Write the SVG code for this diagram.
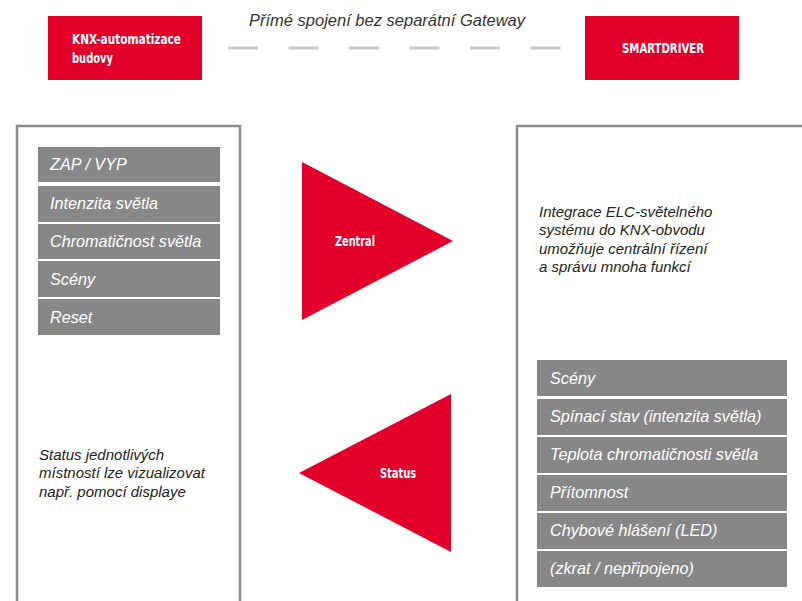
<svg xmlns="http://www.w3.org/2000/svg" width="802" height="601" viewBox="0 0 802 601">
<style>
.red{fill:#e2002b}
.item{fill:#878787}
.it{font-family:"Liberation Sans",Arial,sans-serif;font-style:italic;font-size:16.2px;fill:#ffffff}
.para{font-family:"Liberation Sans",Arial,sans-serif;font-style:italic;font-size:15px;fill:#222222}
.cond{font-family:"DejaVu Sans Condensed","DejaVu Sans",sans-serif;font-stretch:condensed;font-weight:bold;font-size:14px;fill:#ffffff}
.frame{fill:none;stroke:#8c8c8c;stroke-width:2.5}
</style>
<rect width="802" height="601" fill="#ffffff"/>
<g id="knx"><rect class="red" x="48" y="16" width="154" height="64"/>
<text class="cond" x="72" y="44" textLength="109" lengthAdjust="spacingAndGlyphs">KNX-automatizace</text>
<text class="cond" x="72" y="63" textLength="41" lengthAdjust="spacingAndGlyphs">budovy</text></g>
<g id="smartdriver"><rect class="red" x="585" y="16" width="154" height="64"/>
<text class="cond" x="622" y="53" textLength="82" lengthAdjust="spacingAndGlyphs">SMARTDRIVER</text></g>
<g id="connectors">
<line x1="228" y1="48" x2="562" y2="48" stroke="#c8c8c8" stroke-width="3" stroke-dasharray="30 30.5"/>
<text class="para" x="387" y="26" text-anchor="middle" style="font-size:16.5px;fill:#333">Přímé spojení bez separátní Gateway</text>
</g>
<g id="left-panel">
<path class="frame" d="M17 603 V126 H240 V603"/>
<rect class="item" x="38" y="147" width="182" height="35"/>
<text class="it" x="50" y="170">ZAP / VYP</text>
<rect class="item" x="38" y="186" width="182" height="36"/>
<text class="it" x="50" y="209">Intenzita světla</text>
<rect class="item" x="38" y="224" width="182" height="35"/>
<text class="it" x="50" y="247">Chromatičnost světla</text>
<rect class="item" x="38" y="261" width="182" height="36"/>
<text class="it" x="50" y="285">Scény</text>
<rect class="item" x="38" y="299" width="182" height="36"/>
<text class="it" x="50" y="323">Reset</text>
<text class="para" x="39" y="460">Status jednotlivých</text>
<text class="para" x="39" y="478">místností lze vizualizovat</text>
<text class="para" x="39" y="497">např. pomocí displaye</text>
</g>
<g id="zentral"><polygon class="red" points="302,162 302,320 453,241"/>
<text class="cond" x="335" y="246" textLength="40" lengthAdjust="spacingAndGlyphs">Zentral</text></g>
<g id="status"><polygon class="red" points="299,473 451,394 451,552"/>
<text class="cond" x="380" y="478" textLength="36" lengthAdjust="spacingAndGlyphs">Status</text></g>
<g id="right-panel">
<path class="frame" d="M517 603 V126 H804"/>
<text class="para" x="539" y="217">Integrace ELC-světelného</text>
<text class="para" x="539" y="235">systému do KNX-obvodu</text>
<text class="para" x="539" y="254">umožňuje centrální řízení</text>
<text class="para" x="539" y="272">a správu mnoha funkcí</text>
<rect class="item" x="537" y="360" width="250" height="36"/>
<text class="it" x="550" y="384">Scény</text>
<rect class="item" x="537" y="399" width="250" height="36"/>
<text class="it" x="550" y="422">Spínací stav (intenzita světla)</text>
<rect class="item" x="537" y="437" width="250" height="36"/>
<text class="it" x="550" y="460">Teplota chromatičnosti světla</text>
<rect class="item" x="537" y="475" width="250" height="36"/>
<text class="it" x="550" y="498">Přítomnost</text>
<rect class="item" x="537" y="513" width="250" height="36"/>
<text class="it" x="550" y="536">Chybové hlášení (LED)</text>
<rect class="item" x="537" y="551" width="250" height="36"/>
<text class="it" x="550" y="574">(zkrat / nepřipojeno)</text>
</g>
</svg>
